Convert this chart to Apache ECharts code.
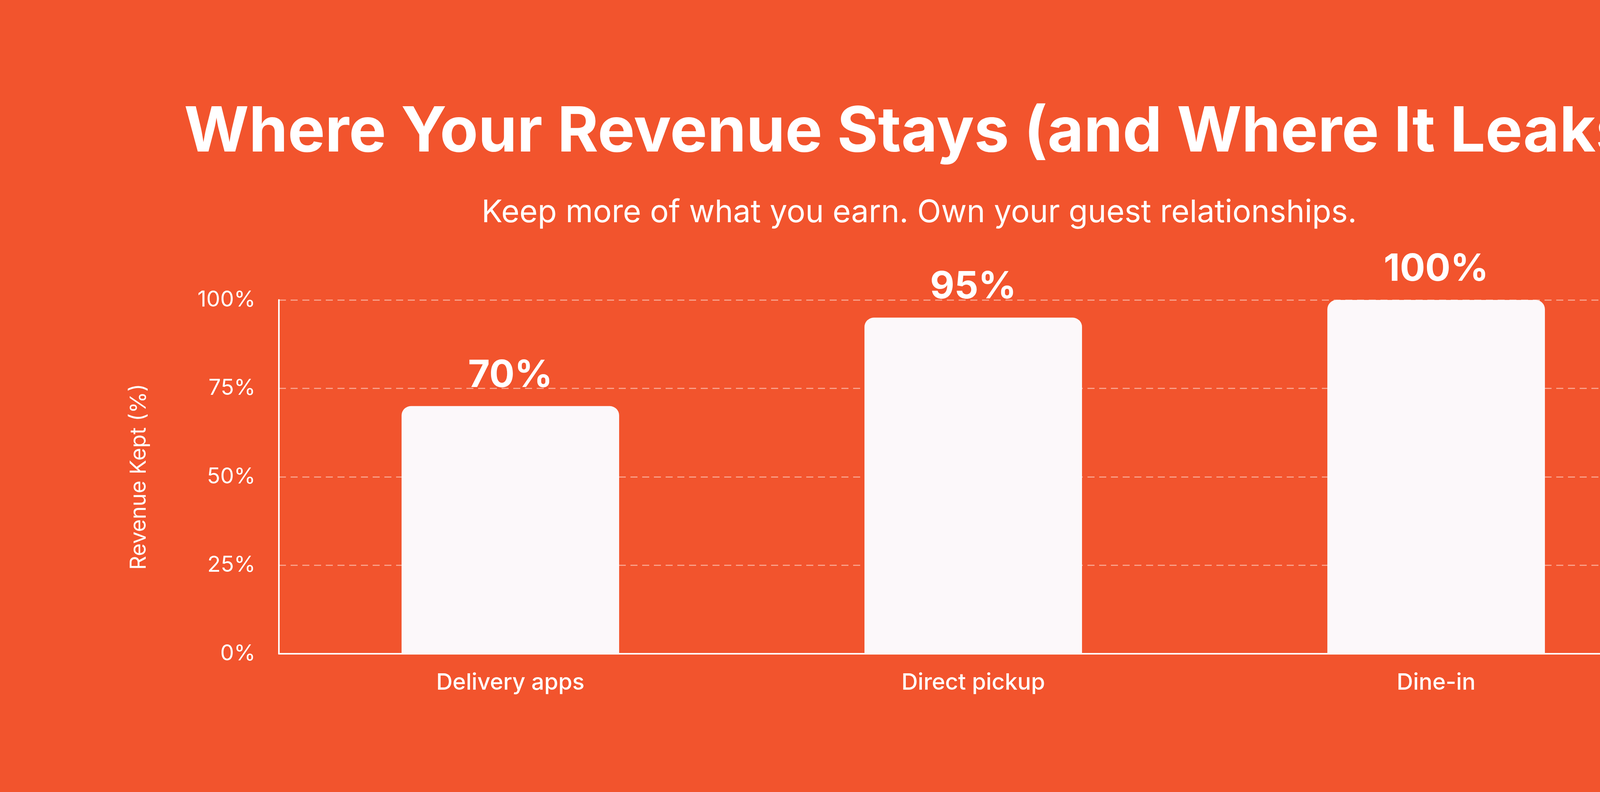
<!DOCTYPE html>
<html><head><meta charset="utf-8">
<script src="https://cdn.jsdelivr.net/npm/echarts@6/dist/echarts.min.js"></script>
<style>html,body{margin:0;padding:0;background:#F2542D}#c{width:4706px;height:2028px}</style>
</head><body><div id="c"></div>
<script>
const categories = ["Delivery apps", "Direct pickup", "Dine-in"];
const revenueKept = [70, 95, 100];
const yTicks = [0, 25, 50, 75, 100];

const chart = echarts.init(document.getElementById('c'));
chart.setOption({
  backgroundColor: '#F2542D',
  textStyle: { fontFamily: 'Inter' },
  title: [
    { text: 'Where Your Revenue Stays (and Where It Leaks)', left: 'center', top: 255,
      textStyle: { color: '#fff', fontSize: 160, fontWeight: 'bold', fontFamily: 'Inter' } },
    { text: 'Keep more of what you earn. Own your guest relationships.', left: 'center', top: 500,
      textStyle: { color: '#fff', fontSize: 80, fontWeight: 'normal', fontFamily: 'Inter' } }
  ],
  grid: { left: 714, right: 437, top: 768, bottom: 354 },
  xAxis: {
    type: 'category', data: categories,
    axisLine: { lineStyle: { color: '#fff', width: 4 } },
    axisTick: { show: false },
    axisLabel: { color: '#fff', fontSize: 58, margin: 46, fontWeight: 500 }
  },
  yAxis: {
    type: 'value', min: 0, max: 100, interval: 25,
    name: 'Revenue Kept (%)', nameLocation: 'middle', nameGap: 330, nameRotate: 90,
    nameTextStyle: { color: '#fff', fontSize: 56 },
    axisLine: { show: true, lineStyle: { color: '#fff', width: 4 } },
    axisTick: { show: false },
    axisLabel: { color: '#fff', fontSize: 56, margin: 60,
      formatter: v => yTicks.includes(v) ? v + '%' : '' },
    splitLine: { lineStyle: { color: 'rgba(255,255,255,0.45)', type: [18, 12], width: 3 } }
  },
  series: [{
    type: 'bar', data: revenueKept, barWidth: '47%',
    itemStyle: { color: '#FCF8FA', borderRadius: [24, 24, 0, 0] },
    label: { show: true, position: 'top', distance: 30, color: '#fff', fontSize: 96,
      fontWeight: 'bold', formatter: '{c}%' }
  }]
});
</script></body></html>
